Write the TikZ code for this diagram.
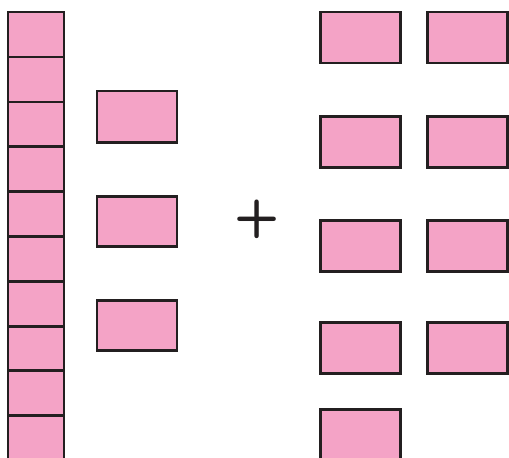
\documentclass[tikz,border=0pt]{standalone}
\usepackage{xcolor}
\definecolor{tilepink}{RGB}{244,163,198}
\definecolor{tileedge}{RGB}{35,31,32}
\usepackage{tikz}
\usetikzlibrary{positioning}
\tikzset{
  tile/.style={fill=tilepink, draw=tileedge, line width=1.7pt},
}

\begin{document}
\begin{tikzpicture}[x=0.02cm, y=-0.02cm]
  \clip (0,0) rectangle (509,457);

  % --- Tall column of ten cells ---
  \draw[tile] (8,12)  rectangle (64,57);
  \draw[tile] (8,57)  rectangle (64,102);
  \draw[tile] (8,102) rectangle (64,146);
  \draw[tile] (8,146) rectangle (64,191);
  \draw[tile] (8,191) rectangle (64,236);
  \draw[tile] (8,236) rectangle (64,281);
  \draw[tile] (8,281) rectangle (64,326);
  \draw[tile] (8,326) rectangle (64,370);
  \draw[tile] (8,370) rectangle (64,415);
  \draw[tile] (8,415) rectangle (64,462);

  % --- Three single tiles ---
  \draw[tile] (97,91)  rectangle (177,142);
  \draw[tile] (97,196) rectangle (177,246);
  \draw[tile] (97,300) rectangle (177,350);

  % Plus sign
  \node[font=\fontsize{30}{30}\selectfont\sffamily\bfseries, text=tileedge, inner sep=0pt] (plus) at (257,219) {+};

  % --- Nine single tiles on the right ---
  \draw[tile] (320,12)  rectangle (400,63);
  \draw[tile] (427,12)  rectangle (507,63);
  \draw[tile] (320,116) rectangle (400,167);
  \draw[tile] (427,116) rectangle (507,167);
  \draw[tile] (320,220) rectangle (400,271);
  \draw[tile] (427,220) rectangle (507,271);
  \draw[tile] (320,322) rectangle (400,373);
  \draw[tile] (427,322) rectangle (507,373);
  \draw[tile] (320,409) rectangle (400,462);
\end{tikzpicture}
\end{document}
